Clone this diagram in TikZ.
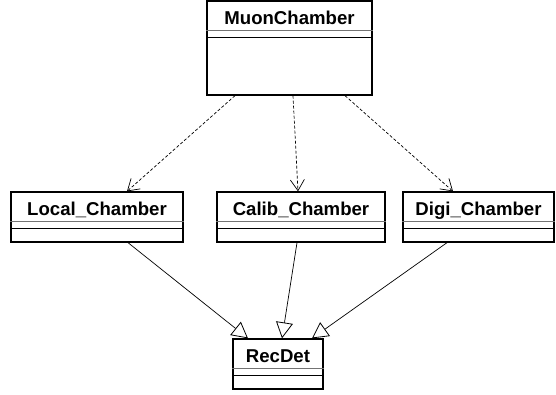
\documentclass[tikz,border=0pt]{standalone}
\usepackage{fontspec}
\setmainfont{Liberation Sans}
\usepackage{tikz}
\usetikzlibrary{arrows.meta}
\tikzset{
  cls/.style={draw=black, line width=1.3pt, rectangle, inner sep=0pt, fill=white},
  ttl/.style={font=\bfseries\fontsize{18.6}{18}\selectfont, anchor=base, inner sep=0pt},
  sepg/.style={draw=black!55, line width=1.1pt},
  sepb/.style={draw=black, line width=1.1pt},
  dep/.style={draw=black, line width=0.7pt, dash pattern=on 3pt off 2pt,
    -{Straight Barb[length=11pt,width=14pt,line width=0.7pt]}},
  gen/.style={draw=black, line width=0.7pt,
    -{Triangle[open,length=16pt,width=17pt,line width=0.8pt,fill=white]}},
}
\begin{document}
\begin{tikzpicture}[x=1pt,y=-1pt]
  \useasboundingbox (0,0) rectangle (556,395);
  % classes
  \node[cls, minimum width=165pt, minimum height=94pt] (muon) at (289.5,48) {};
  \node[cls, minimum width=172pt, minimum height=50pt] (local) at (97,217) {};
  \node[cls, minimum width=168pt, minimum height=50pt] (calib) at (301,217) {};
  \node[cls, minimum width=151pt, minimum height=50pt] (digi) at (478.5,217) {};
  \node[cls, minimum width=90pt, minimum height=50pt] (recdet) at (278,364) {};
  % compartments
  \foreach \c/\t in {muon/MuonChamber, local/Local\_Chamber, calib/Calib\_Chamber,
                     digi/Digi\_Chamber, recdet/RecDet}{
    \node[ttl] (\c-name) at ([yshift=-24pt]\c.north) {\t};
    \draw[sepg] ([yshift=-30pt]\c.north west) -- ([yshift=-30pt]\c.north east);
    \draw[sepb] ([yshift=-37pt]\c.north west) -- ([yshift=-37pt]\c.north east);
  }
  % dependencies
  \draw[dep] ([xshift=-54.5pt]muon.south) -- ([xshift=30pt]local.north);
  \draw[dep] ([xshift=3.5pt]muon.south) -- ([xshift=-3pt]calib.north);
  \draw[dep] ([xshift=55.5pt]muon.south) -- ([xshift=-25.5pt]digi.north);
  % generalisations
  \draw[gen] ([xshift=31pt]local.south) -- ([xshift=-30pt]recdet.north);
  \draw[gen] ([xshift=-4pt]calib.south) -- ([xshift=4pt]recdet.north);
  \draw[gen] ([xshift=-31.5pt]digi.south) -- ([xshift=34pt]recdet.north);
\end{tikzpicture}
\end{document}
